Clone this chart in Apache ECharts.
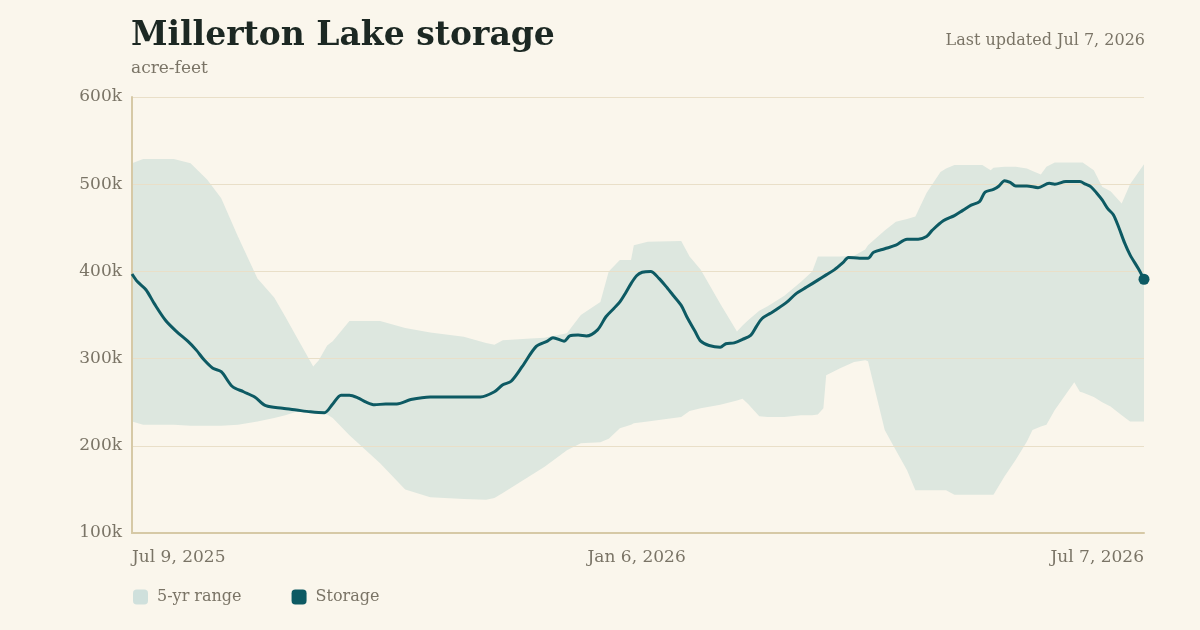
<!DOCTYPE html>
<html>
<head>
<meta charset="utf-8">
<style>
  html, body { margin: 0; padding: 0; background: #faf6ec; }
  #chart { width: 1200px; height: 630px; }
</style>
<script src="https://cdn.jsdelivr.net/npm/echarts@6/dist/echarts.min.js"></script>
</head>
<body>
<div id="chart"></div>
<script>
// days counted from Jul 9, 2025
var xTickDays = [0, 181, 363];
var xTickLabels = ['Jul 9, 2025', 'Jan 6, 2026', 'Jul 7, 2026'];

// 5-yr range, acre-feet (thousands)
var bandDay = [0, 4, 15, 21, 27, 32, 38, 45, 51, 55, 59, 65, 67, 70, 72, 78, 89, 98, 107, 119, 127, 130, 133, 143, 148, 156, 161, 168, 171, 175, 179, 180, 185, 197, 200, 204, 211, 217, 219, 221, 225, 228, 234, 240, 244, 246, 248, 249, 254, 259, 263, 264, 270, 274, 278, 281, 285, 290, 292, 295, 305, 308, 309, 313, 317, 321, 323, 326, 328, 331, 338, 340, 341, 345, 348, 351, 355, 358, 363];
var bandHigh = [524, 529, 529, 524, 505, 484, 440, 392, 370, 348, 325, 291, 298, 315, 320, 343, 343, 335, 330, 325, 318, 316, 321, 323, 324, 329, 350, 365, 400, 413, 413, 430, 434, 435, 417, 402, 363, 331, 338, 344, 355, 360, 372, 388, 400, 417, 417, 417, 417, 418, 425, 430, 447, 457, 460, 463, 490, 514, 518, 522, 522, 516, 519, 520, 520, 518, 515, 511, 520, 525, 525, 525, 525, 516, 497, 492, 478, 500, 523];
var bandLow = [228, 224, 224, 223, 223, 223, 224, 228, 232, 235, 239, 238, 237, 236, 232, 212, 180, 150, 141, 139, 138, 140, 146, 166, 176, 195, 203, 204, 208, 220, 224, 226, 228, 233, 240, 243, 247, 252, 254, 248, 234, 233, 233, 235, 235, 236, 243, 281, 289, 296, 298, 297, 218, 195, 172, 149, 149, 149, 149, 144, 144, 144, 144, 165, 184, 205, 218, 222, 224, 241, 273, 262, 261, 256, 250, 245, 235, 228, 228];

// storage, acre-feet (thousands)
var storageDay = [0, 2, 5, 8, 12, 16, 20, 23, 26, 29, 32, 36, 40, 44, 48, 54, 59, 64, 69, 72, 75, 78, 81, 84, 87, 91, 95, 100, 107, 113, 119, 125, 130, 133, 136, 140, 145, 149, 151, 155, 157, 160, 163, 167, 170, 173, 175, 177, 179, 181, 183, 186, 189, 192, 194, 197, 199, 202, 204, 207, 211, 213, 216, 219, 222, 224, 226, 229, 231, 235, 238, 242, 246, 249, 252, 255, 257, 261, 264, 266, 270, 274, 278, 282, 285, 287, 291, 295, 298, 301, 304, 306, 309, 311, 313, 315, 317, 321, 325, 329, 331, 335, 340, 342, 344, 346, 348, 350, 352, 354, 356, 358, 361, 363];
var storage = [397, 388, 379, 363, 344, 331, 320, 310, 298, 289, 285, 268, 262, 256, 246, 243, 241, 239, 238, 248, 258, 258, 255, 250, 247, 248, 248, 253, 256, 256, 256, 256, 262, 270, 274, 291, 314, 320, 324, 320, 326, 327, 326, 333, 348, 358, 365, 375, 386, 395, 399, 400, 392, 381, 373, 361, 348, 331, 320, 315, 313, 317, 318, 322, 327, 337, 346, 352, 356, 365, 374, 382, 390, 396, 402, 410, 416, 415, 415, 422, 426, 430, 437, 437, 440, 447, 458, 464, 470, 476, 480, 491, 494, 498, 504, 502, 498, 498, 496, 501, 500, 503, 503, 500, 497, 490, 482, 472, 465, 450, 433, 419, 403, 391];

var FONT = "'DejaVu Serif', serif";
var TEXT = '#7a7466';
var BG = '#faf6ec';

var chart = echarts.init(document.getElementById('chart'));

var highData = bandDay.map(function (d, i) { return [d, bandHigh[i] * 1000]; });
var lowData = bandDay.map(function (d, i) { return [d, bandLow[i] * 1000]; });
var storeData = storageDay.map(function (d, i) { return [d, storage[i] * 1000]; });
var last = storeData.length - 1;

var option = {
    backgroundColor: BG,
    animation: false,
    title: [{
        text: 'Millerton Lake storage',
        subtext: 'acre-feet',
        left: 126,
        top: 15,
        itemGap: 7,
        textStyle: { fontFamily: FONT, fontSize: 33, fontWeight: 'bold', color: '#1c2823' },
        subtextStyle: { fontFamily: FONT, fontSize: 17, color: TEXT }
    }, {
        text: 'Last updated Jul 7, 2026',
        right: 50,
        top: 28,
        textStyle: { fontFamily: FONT, fontSize: 16, fontWeight: 'normal', color: TEXT }
    }],
    legend: {
        left: 128,
        top: 584,
        itemWidth: 15,
        itemHeight: 15,
        itemGap: 50,
        icon: 'roundRect',
        textStyle: { fontFamily: FONT, fontSize: 16, color: TEXT, padding: [0, 0, 0, 4] },
        data: [
            { name: '5-yr range', itemStyle: { color: '#cfe0dc' } },
            { name: 'Storage', itemStyle: { color: '#0d5a63' } }
        ]
    },
    grid: { left: 132, right: 56, top: 97, bottom: 97 },
    xAxis: {
        type: 'value',
        min: 0,
        max: 363,
        axisLine: { show: true, lineStyle: { color: '#d6c9a6', width: 2 } },
        axisTick: { show: false },
        splitLine: { show: false },
        axisLabel: {
            customValues: xTickDays,
            margin: 16,
            fontFamily: FONT,
            fontSize: 17,
            color: TEXT,
            alignMinLabel: 'left',
            alignMaxLabel: 'right',
            formatter: function (v) { return xTickLabels[xTickDays.indexOf(v)]; }
        }
    },
    yAxis: {
        type: 'value',
        min: 100000,
        max: 600000,
        interval: 100000,
        axisLine: { show: true, lineStyle: { color: '#d6c9a6', width: 2 } },
        axisTick: { show: false },
        splitLine: { lineStyle: { color: '#e9dfc8', width: 1 } },
        axisLabel: {
            margin: 10,
            fontFamily: FONT,
            fontSize: 17,
            color: TEXT,
            formatter: function (v) { return (v / 1000) + 'k'; }
        }
    },
    series: [{
        // upper edge of the range, filled down to the axis
        name: '5-yr range',
        type: 'line',
        z: -2,
        data: highData,
        symbol: 'none',
        itemStyle: { color: '#cfe0dc' },
        lineStyle: { width: 0, opacity: 0 },
        areaStyle: { color: '#dde7df', opacity: 1 },
        silent: true
    }, {
        // lower edge, background fill cuts the band out below
        name: 'low',
        type: 'line',
        z: -1,
        data: lowData,
        symbol: 'none',
        lineStyle: { width: 0, opacity: 0 },
        areaStyle: { color: BG, opacity: 1 },
        silent: true
    }, {
        name: 'Storage',
        type: 'line',
        data: storeData,
        smooth: 0.3,
        symbol: 'circle',
        symbolSize: function (v, p) { return p.dataIndex === last ? 11 : 0; },
        itemStyle: { color: '#0d5a63' },
        lineStyle: { color: '#0d5a63', width: 3 },
        z: 3
    }]
};

chart.setOption(option);
window.onresize = function () { chart.resize(); };
</script>
</body>
</html>
